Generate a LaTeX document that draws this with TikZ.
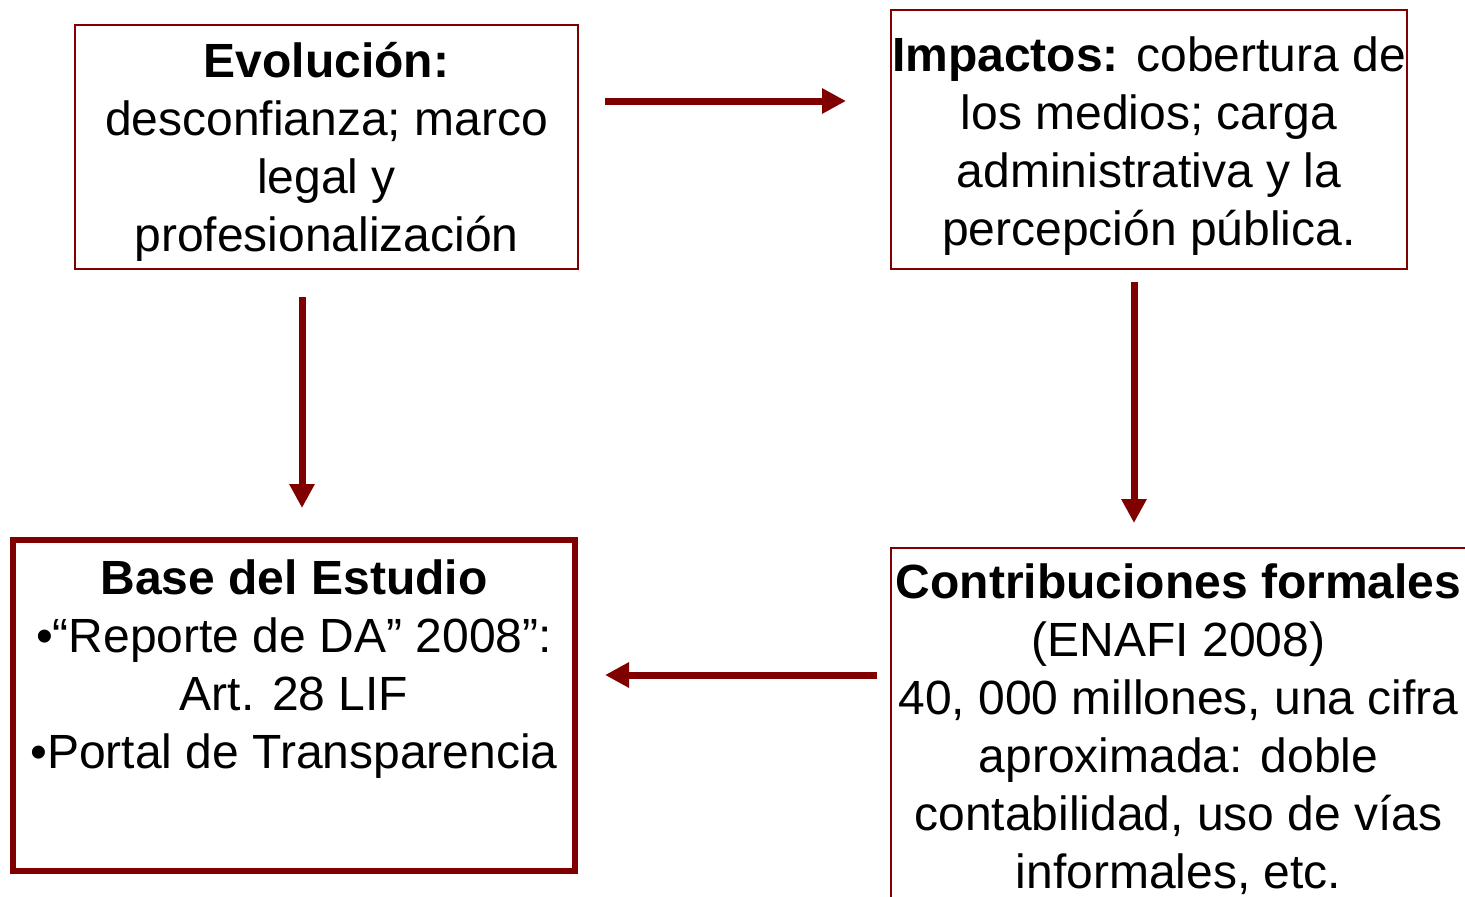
\documentclass[tikz,border=0pt]{standalone}
\usepackage{fontspec}
\setmainfont{Liberation Sans}
\usetikzlibrary{arrows.meta}
\definecolor{dred}{HTML}{800000}
\begin{document}
\begin{tikzpicture}[x=1pt,y=-1pt,
  thinbox/.style={draw=dred, line width=1.5pt, inner sep=0pt, outer sep=0pt},
  thickbox/.style={draw=dred, line width=6pt, inner sep=0pt, outer sep=0pt},
  txt/.style={align=center, font=\fontsize{48}{58}\selectfont, inner sep=0pt, anchor=base},
  arr/.style={draw=dred, line width=7pt, -{Triangle[length=24pt,width=24pt]}}]
\useasboundingbox (0,0) rectangle (1465,897);
% boxes
\node[thinbox, minimum width=503pt, minimum height=244pt] (evo) at (326.5,147) {};
\node[thinbox, minimum width=516pt, minimum height=259pt] (imp) at (1149,139.5) {};
\node[thinbox, minimum width=589pt, minimum height=372pt] (con) at (1185.5,734) {};
\node[thickbox, minimum width=562pt, minimum height=331pt] (base) at (294,705.5) {};
% texts (anchor = baseline of last line)
\node[txt] (evoT) at (326.5,251) {\textbf{Evolución:}\\desconfianza; marco\\legal y\\profesionalización};
\node[txt] (impT) at (1149,245) {\textbf{Impactos:} cobertura de\\los medios; carga\\administrativa y la\\percepción pública.};
\node[txt] (baseT) at (294,768) {\textbf{Base del Estudio}\\•“Reporte de DA” 2008”:\\Art. 28 LIF\\•Portal de Transparencia};
\node[txt] (conT) at (1178.5,888) {\textbf{Contribuciones formales}\\(ENAFI 2008)\\40, 000 millones, una cifra\\aproximada: doble\\contabilidad, uso de vías\\informales, etc.};
% arrow ends
\coordinate (a1s) at (605,101);
\coordinate (a1e) at (846,101);
\coordinate (a2s) at (302,297);
\coordinate (a2e) at (302,508);
\coordinate (a3s) at (1134,282);
\coordinate (a3e) at (1134,523);
\coordinate (a4s) at (877,675);
\coordinate (a4e) at (605,675);
\draw[arr] (a1s) -- (a1e);
\draw[arr] (a2s) -- (a2e);
\draw[arr] (a3s) -- (a3e);
\draw[arr] (a4s) -- (a4e);
\end{tikzpicture}
\end{document}
